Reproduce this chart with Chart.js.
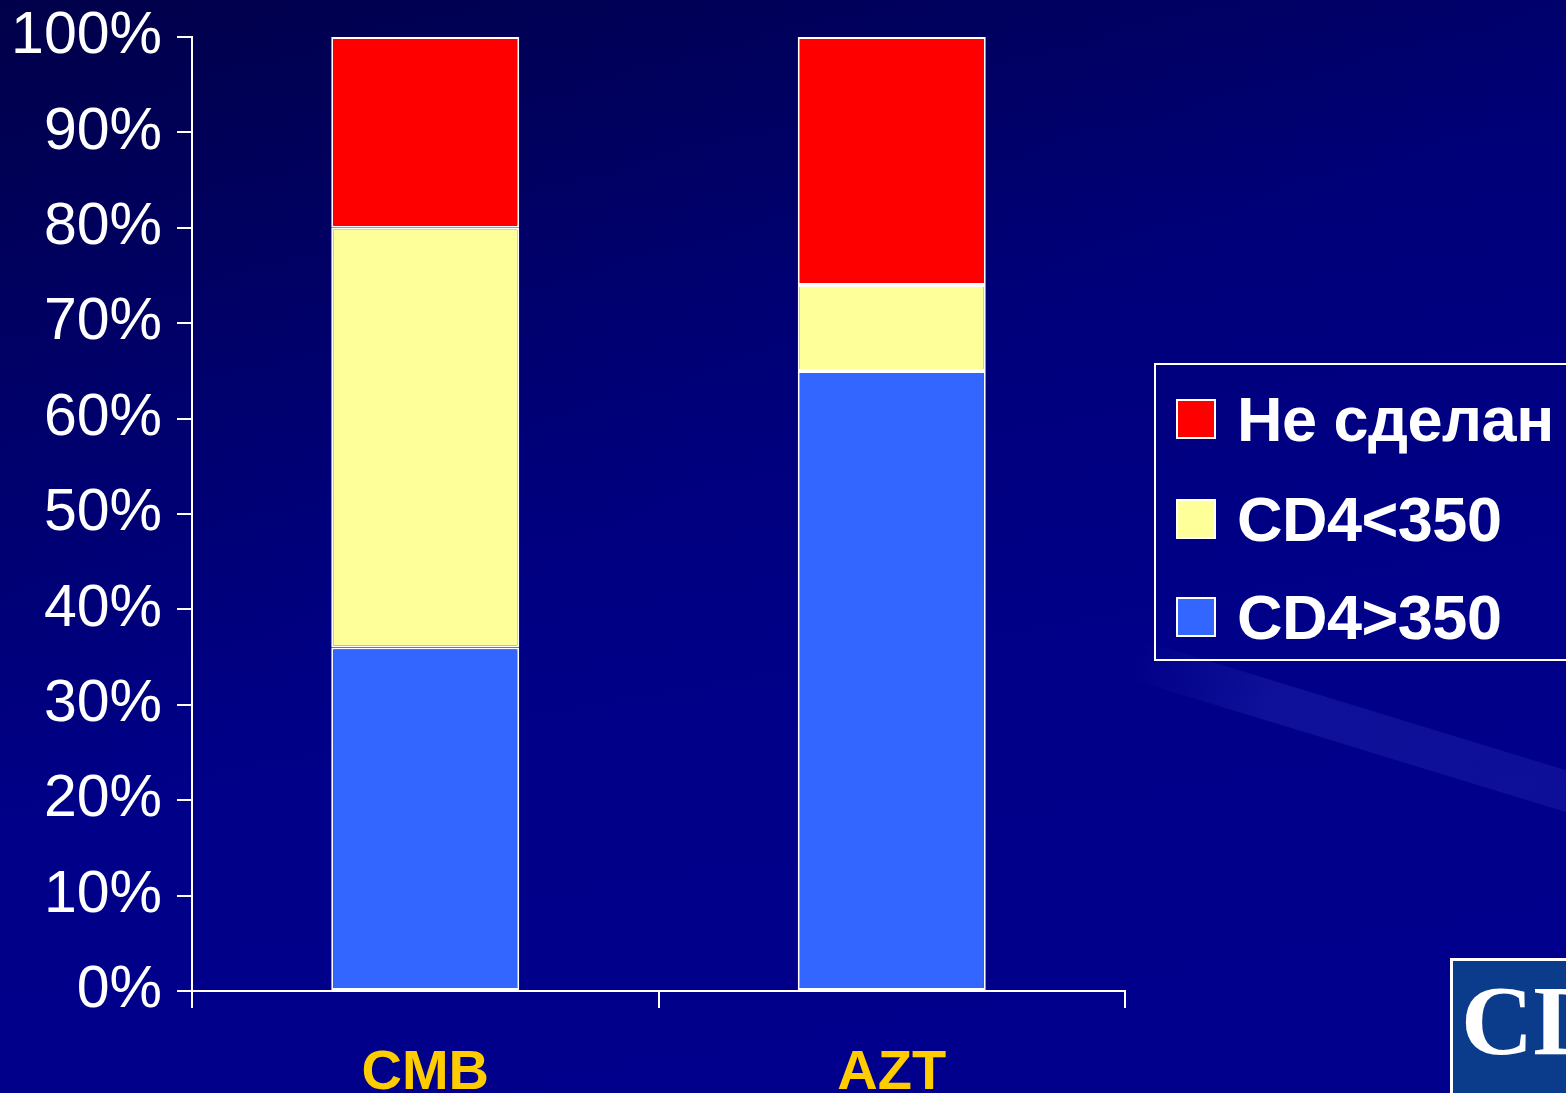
<!DOCTYPE html>
<html>
<head>
<meta charset="utf-8">
<script src="https://cdn.jsdelivr.net/npm/chart.js@4"></script>
<style>
  html, body { margin: 0; padding: 0; overflow: hidden; }
  body {
    width: 1566px; height: 1093px; position: relative;
    background:
      linear-gradient(155deg, rgba(0,0,40,0.35) 0%, rgba(0,0,40,0) 45%),
      linear-gradient(170deg, #00005c 0%, #000078 30%, #000088 60%, #00008e 100%);
  }
  .streak {
    position: absolute; left: 1140px; top: 640px; width: 480px; height: 40px;
    transform: rotate(17deg); transform-origin: left top;
    background: linear-gradient(90deg, rgba(110,120,255,0) 0%, rgba(110,120,255,0.14) 30%, rgba(110,120,255,0.12) 100%);
  }
  #chart { position: absolute; left: 0; top: 0; }
  .legend {
    position: absolute; left: 1154px; top: 363px; width: 430px; height: 298px;
    border: 2px solid #fff; box-sizing: border-box;
    font-family: "Liberation Sans", Arial, sans-serif; font-weight: bold; font-size: 63px; color: #fff;
    letter-spacing: -0.5px;
  }
  .legend-item { position: absolute; left: 20px; height: 62px; display: flex; align-items: center; white-space: nowrap; }
  .legend-swatch { width: 40px; height: 40px; border: 2px solid #fff; box-sizing: border-box; margin-right: 21px; }
  .logo {
    position: absolute; left: 1450px; top: 958px; width: 140px; height: 140px;
    border: 3px solid #fff; box-sizing: border-box; background: #0b3c8c; overflow: hidden;
    font-family: "Liberation Serif", serif; font-weight: bold; font-size: 100px; color: #fff;
    line-height: 120px; padding-left: 8px;
  }
</style>
</head>
<body>
<div class="streak"></div>
<canvas id="chart" width="1566" height="1093"></canvas>
<div class="legend" id="legend"></div>
<div class="logo">CDC</div>
<script>
const CATEGORIES = ["CMB", "AZT"];
const SERIES_LABELS = ["Не сделан", "CD4<350", "CD4>350"];
const NOT_DONE = [20, 26];
const CD4_BELOW = [44, 9];
const CD4_ABOVE = [36, 65];
const Y_TICKS = [0, 10, 20, 30, 40, 50, 60, 70, 80, 90, 100];

const COLORS = { notDone: "#ff0000", below: "#ffff99", above: "#3366ff" };
const FONT_FAMILY = "Liberation Sans, Arial, sans-serif";

function barSet(label, data, color) {
  return {
    label: label,
    data: data,
    backgroundColor: color,
    borderColor: "#ffffff",
    borderWidth: 2,
    borderSkipped: false,
    categoryPercentage: 1,
    barPercentage: 0.403,
  };
}

const chart = new Chart(document.getElementById("chart"), {
  type: "bar",
  data: {
    labels: CATEGORIES,
    datasets: [
      barSet(SERIES_LABELS[2], CD4_ABOVE, COLORS.above),
      barSet(SERIES_LABELS[1], CD4_BELOW, COLORS.below),
      barSet(SERIES_LABELS[0], NOT_DONE, COLORS.notDone),
    ],
  },
  options: {
    responsive: false,
    animation: false,
    devicePixelRatio: 1,
    layout: { padding: { left: 0, right: 441, top: 37, bottom: 0 } },
    plugins: { legend: { display: false }, tooltip: { enabled: false } },
    scales: {
      x: {
        stacked: true,
        afterFit: s => { s.height = 102; s.paddingLeft = 0; s.paddingRight = 0; },
        border: { color: "#ffffff", width: 2 },
        grid: { offset: true, drawOnChartArea: false, drawTicks: true, tickLength: 17, color: "#ffffff", lineWidth: 2 },
        ticks: { color: "#ffcc00", font: { family: FONT_FAMILY, size: 56, weight: "bold" }, padding: 32 },
      },
      y: {
        stacked: true,
        min: 0,
        max: 100,
        afterFit: s => { s.width = 192; s.paddingTop = 0; s.paddingBottom = 0; },
        afterBuildTicks: s => { s.ticks = Y_TICKS.map(v => ({ value: v })); },
        border: { color: "#ffffff", width: 2 },
        grid: { drawOnChartArea: false, drawTicks: true, tickLength: 15, color: "#ffffff", lineWidth: 2 },
        ticks: {
          color: "#ffffff",
          padding: 15,
          font: { family: FONT_FAMILY, size: 59 },
          callback: v => v + "%",
        },
      },
    },
  },
});

function buildLegend() {
  const legendEl = document.getElementById("legend");
  const items = [
    { label: SERIES_LABELS[0], color: COLORS.notDone },
    { label: SERIES_LABELS[1], color: COLORS.below },
    { label: SERIES_LABELS[2], color: COLORS.above },
  ];
  const rowTops = [23, 123, 221];
  items.forEach((it, i) => {
    const item = document.createElement("div");
    item.className = "legend-item";
    item.style.top = rowTops[i] + "px";
    const swatch = document.createElement("span");
    swatch.className = "legend-swatch";
    swatch.style.background = it.color;
    const label = document.createElement("span");
    label.textContent = it.label;
    item.appendChild(swatch);
    item.appendChild(label);
    legendEl.appendChild(item);
  });
}
buildLegend();
</script>
</body>
</html>
